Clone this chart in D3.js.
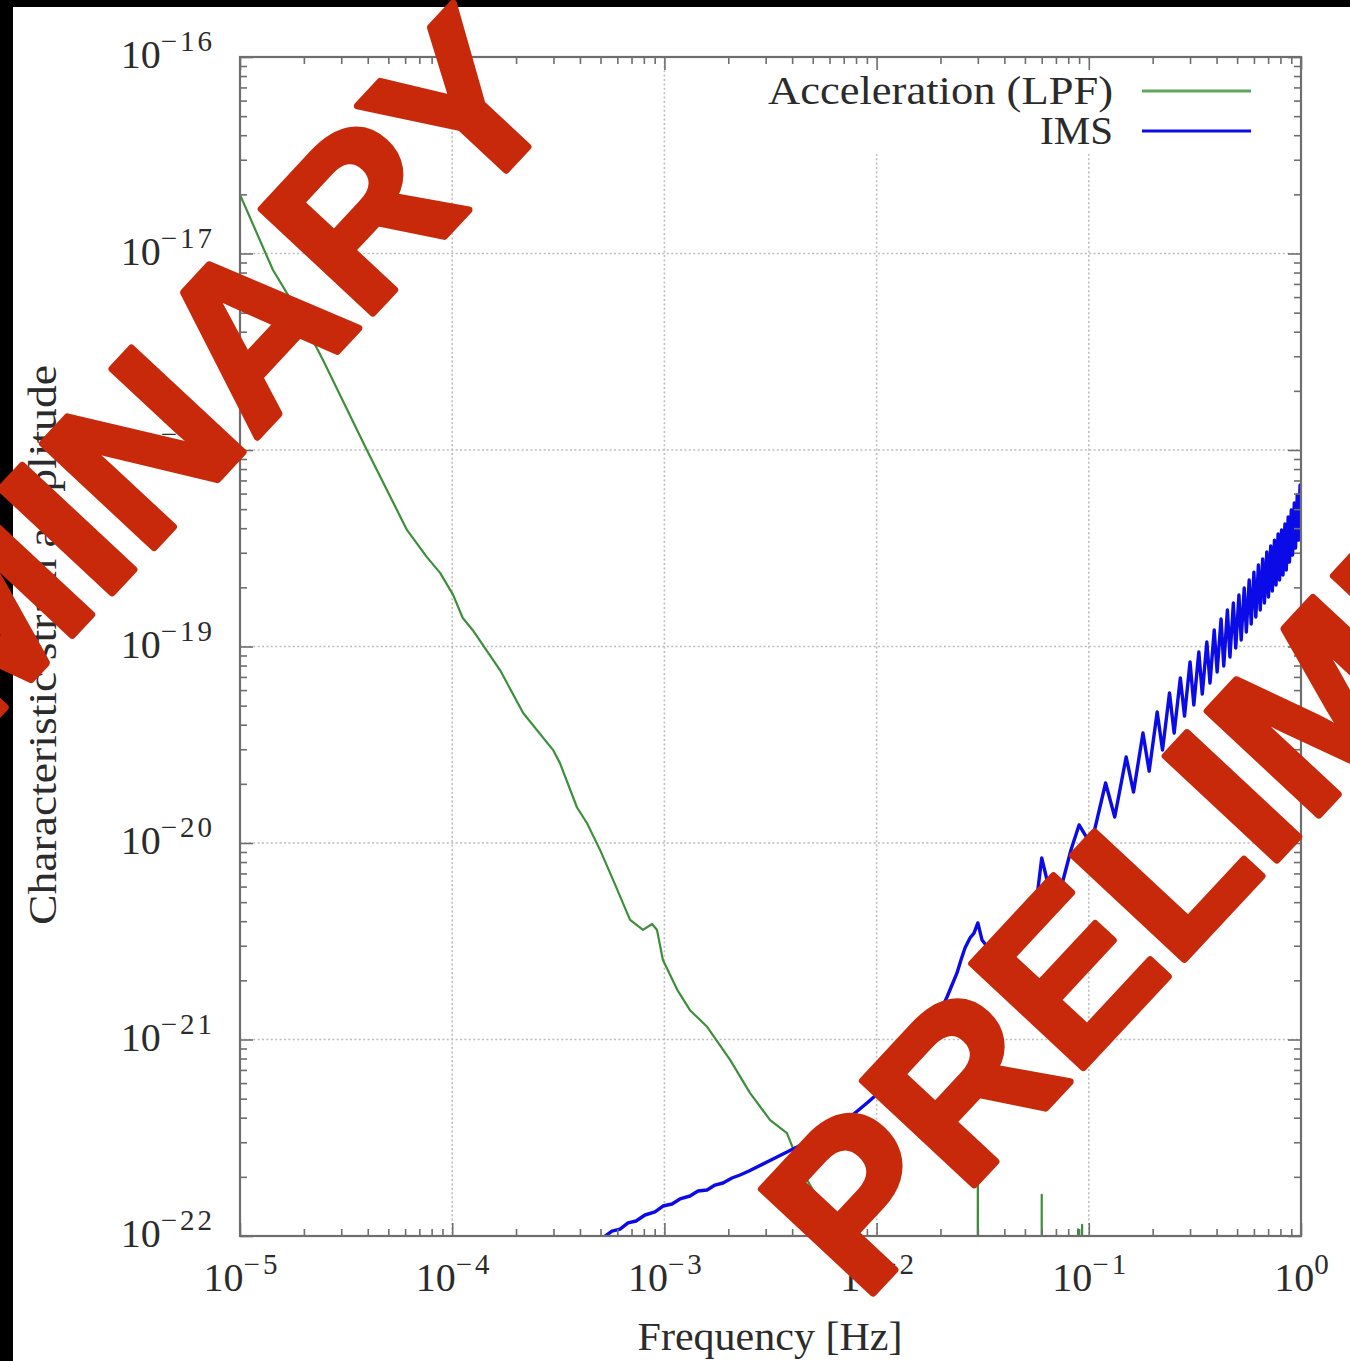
<!DOCTYPE html>
<html>
<head>
<meta charset="utf-8">
<script src="https://cdn.jsdelivr.net/npm/d3@7"></script>
<style>
  html, body { margin: 0; padding: 0; background: #fff; }
  svg { display: block; }
</style>
</head>
<body>
<svg id="chart" width="1350" height="1361"></svg>
<script>
// ---- data -------------------------------------------------------------
const seriesNames = ["Acceleration (LPF)", "IMS"];
const xTicks = [1e-5, 1e-4, 1e-3, 1e-2, 1e-1, 1];
const yTicks = [1e-22, 1e-21, 1e-20, 1e-19, 1e-18, 1e-17, 1e-16];

// Acceleration noise (LPF): frequency [Hz] and characteristic strain
const accelFreq = [1.00e-5, 1.43e-5, 1.86e-5, 2.46e-5, 3.96e-5, 6.12e-5, 7.60e-5, 8.77e-5,
  1.01e-4, 1.12e-4, 1.25e-4, 1.68e-4, 2.16e-4, 2.99e-4, 3.22e-4, 3.87e-4, 4.32e-4, 4.98e-4,
  5.73e-4, 6.89e-4, 7.93e-4, 8.75e-4, 9.23e-4, 9.84e-4, 1.15e-3, 1.32e-3, 1.59e-3, 2.04e-3,
  2.53e-3, 3.15e-3, 3.78e-3, 4.12e-3, 4.50e-3, 6.73e-3, 1.04e-2, 2.00e-2,
  2.99e-2, 3.00e-2, 3.01e-2, 5.99e-2, 6.00e-2, 6.01e-2, 8.88e-2, 8.90e-2, 8.92e-2,
  9.28e-2, 9.30e-2, 9.32e-2, 2.0e-1, 1.0];
const accelStrain = [1.99e-17, 8.24e-18, 5.15e-18, 2.87e-18, 1.00e-18, 3.92e-19, 2.85e-19, 2.37e-19,
  1.83e-19, 1.40e-19, 1.21e-19, 7.59e-20, 4.59e-20, 2.97e-20, 2.55e-20, 1.52e-20, 1.26e-20, 9.20e-21,
  6.49e-21, 4.06e-21, 3.61e-21, 3.87e-21, 3.61e-21, 2.54e-21, 1.79e-21, 1.41e-21, 1.16e-21, 7.87e-22,
  5.35e-22, 3.89e-22, 3.34e-22, 2.64e-22, 2.09e-22, 1.00e-22, 4.7e-23, 2.0e-23,
  1.2e-23, 2.52e-22, 1.2e-23, 6.0e-24, 1.62e-22, 6.0e-24, 4.5e-24, 1.08e-22, 4.5e-24,
  4.4e-24, 1.14e-22, 4.4e-24, 3.0e-24, 2.0e-24];

// IMS noise: frequency [Hz] and characteristic strain
const imsFreq = [4.97e-4, 5.66e-4, 6.18e-4, 6.74e-4, 7.35e-4, 8.10e-4, 9.03e-4, 9.85e-4,
  1.086e-3, 1.184e-3, 1.320e-3, 1.440e-3, 1.588e-3, 1.732e-3, 1.889e-3, 2.083e-3, 2.272e-3,
  2.504e-3, 2.731e-3, 3.045e-3, 3.393e-3, 3.783e-3, 4.215e-3, 4.856e-3, 5.591e-3, 6.231e-3,
  6.944e-3, 7.91e-3, 9.01e-3, 9.83e-3, 1.072e-2, 1.182e-2, 1.289e-2, 1.391e-2, 1.485e-2,
  1.602e-2, 1.728e-2, 1.824e-2, 1.926e-2, 2.033e-2, 2.147e-2, 2.266e-2, 2.393e-2, 2.498e-2,
  2.609e-2, 2.755e-2, 2.877e-2, 3.00e-2, 3.138e-2, 3.42e-2, 4.25e-2, 4.59e-2, 5.17e-2,
  5.70e-2, 6.00e-2, 6.49e-2, 7.25e-2, 8.24e-2, 9.00e-2,
  0.1025, 0.12, 0.1325, 0.15, 0.1625, 0.18, 0.1925, 0.21, 0.2225, 0.24, 0.2525, 0.27,
  0.2825, 0.30, 0.3125, 0.33, 0.3425, 0.36, 0.3725, 0.39, 0.4025, 0.42, 0.4325, 0.45,
  0.4625, 0.48, 0.4925, 0.51, 0.5225, 0.54, 0.5525, 0.57, 0.5825, 0.60, 0.6125, 0.63,
  0.6425, 0.66, 0.6725, 0.69, 0.7025, 0.72, 0.7325, 0.75, 0.7625, 0.78, 0.7925, 0.81,
  0.8225, 0.84, 0.8525, 0.87, 0.8825, 0.90, 0.9125, 0.93, 0.9425, 0.96, 0.9725, 0.99, 1.0];
const imsStrain = [9.54e-23, 1.060e-22, 1.085e-22, 1.165e-22, 1.192e-22, 1.279e-22, 1.325e-22, 1.421e-22,
  1.455e-22, 1.543e-22, 1.598e-22, 1.694e-22, 1.714e-22, 1.817e-22, 1.861e-22, 1.973e-22, 2.044e-22,
  2.142e-22, 2.245e-22, 2.380e-22, 2.523e-22, 2.675e-22, 2.836e-22, 3.079e-22, 3.344e-22, 3.546e-22,
  3.760e-22, 4.227e-22, 4.751e-22, 5.158e-22, 5.664e-22, 6.148e-22, 6.752e-22, 7.417e-22, 8.145e-22,
  9.05e-22, 1.030e-21, 1.131e-21, 1.257e-21, 1.446e-21, 1.645e-21, 1.894e-21, 2.181e-21, 2.538e-21,
  2.92e-21, 3.285e-21, 3.48e-21, 3.92e-21, 3.21e-21, 2.855e-21, 2.92e-21, 3.03e-21, 3.83e-21,
  5.31e-21, 8.39e-21, 5.90e-21, 5.44e-21, 9.21e-21, 1.235e-20,
  9.77e-21, 2.02e-20, 1.356e-20, 2.74e-20, 1.817e-20, 3.63e-20, 2.32e-20, 4.64e-20, 2.97e-20, 5.80e-20, 3.63e-20, 6.91e-20,
  4.43e-20, 8.34e-20, 5.04e-20, 9.38e-20, 5.73e-20, 1.054e-19, 6.52e-20, 1.213e-19, 7.42e-20, 1.380e-19, 7.96e-20, 1.534e-19,
  8.84e-20, 1.665e-19, 9.83e-20, 1.829e-19, 1.079e-19, 1.985e-19, 1.185e-19, 2.18e-19, 1.302e-19, 2.39e-19, 1.413e-19, 2.60e-19,
  1.534e-19, 2.79e-19, 1.665e-19, 3.03e-19, 1.786e-19, 3.25e-19, 1.916e-19, 3.48e-19, 2.056e-19, 3.74e-19, 2.18e-19, 3.92e-19,
  2.31e-19, 4.20e-19, 2.45e-19, 4.56e-19, 2.69e-19, 4.95e-19, 2.92e-19, 5.37e-19, 3.17e-19, 5.90e-19, 3.48e-19, 6.64e-19, 3.92e-19];

// ---- layout -----------------------------------------------------------
const W = 1350, H = 1361;
const plot = { left: 240, top: 57, right: 1301, bottom: 1236 };
const serif = "'Liberation Serif', 'Times New Roman', serif";
const textColor = "#2b2b2b";
const colors = { accel: "#3d8f3d", ims: "#0b0be8", legendAccel: "#5fa65f" };

const svg = d3.select("#chart");
svg.append("rect").attr("width", W).attr("height", H).attr("fill", "#fff");

const x = d3.scaleLog().domain([1e-5, 1]).range([plot.left, plot.right]);
const y = d3.scaleLog().domain([1e-22, 1e-16]).range([plot.bottom, plot.top]);

const minorOf = ticks => ticks.slice(0, -1).flatMap(d => d3.range(2, 10).map(k => k * d));
const xMinor = minorOf(xTicks);
const yMinor = minorOf(yTicks);

// dotted grid at every decade
const grid = svg.append("g").attr("stroke", "#bdbdbd").attr("stroke-width", 1.6)
  .attr("stroke-dasharray", "2,2.4").attr("fill", "none");
grid.selectAll(".gx").data(xTicks.slice(1, -1)).join("line")
  .attr("x1", d => x(d)).attr("x2", d => x(d)).attr("y1", plot.top).attr("y2", plot.bottom);
grid.selectAll(".gy").data(yTicks.slice(1, -1)).join("line")
  .attr("y1", d => y(d)).attr("y2", d => y(d)).attr("x1", plot.left).attr("x2", plot.right);

// opaque key area
svg.append("rect").attr("x", 760).attr("y", 60).attr("width", 505).attr("height", 94).attr("fill", "#fff");

// ---- curves -----------------------------------------------------------
svg.append("clipPath").attr("id", "plot-clip").append("rect")
  .attr("x", plot.left).attr("y", plot.top)
  .attr("width", plot.right - plot.left).attr("height", plot.bottom - plot.top);

const line = d3.line().x(d => x(d[0])).y(d => y(d[1]));
const curves = svg.append("g").attr("clip-path", "url(#plot-clip)").attr("fill", "none")
  .attr("stroke-linejoin", "round");
curves.append("path").datum(d3.zip(accelFreq, accelStrain))
  .attr("d", line).attr("stroke", colors.accel).attr("stroke-width", 2.2);
curves.append("path").datum(d3.zip(imsFreq, imsStrain))
  .attr("d", line).attr("stroke", colors.ims).attr("stroke-width", 3.4);

// ---- axes: inward ticks on all four sides ------------------------------
const axisColor = "#6e6e6e";
function ticks(axisFn, scale, major, minor, transform) {
  const gMinor = svg.append("g").attr("transform", transform)
    .call(axisFn(scale).tickValues(minor).tickSize(-7).tickFormat(""));
  const gMajor = svg.append("g").attr("transform", transform)
    .call(axisFn(scale).tickValues(major).tickSize(-13).tickFormat(""));
  [gMinor, gMajor].forEach(g => {
    g.select(".domain").remove();
    g.selectAll("line").attr("stroke", axisColor).attr("stroke-width", 1.6);
  });
}
ticks(d3.axisBottom, x, xTicks, xMinor, `translate(0,${plot.bottom})`);
ticks(d3.axisTop, x, xTicks, xMinor, `translate(0,${plot.top})`);
ticks(d3.axisLeft, y, yTicks, yMinor, `translate(${plot.left},0)`);
ticks(d3.axisRight, y, yTicks, yMinor, `translate(${plot.right},0)`);

svg.append("rect").attr("x", plot.left).attr("y", plot.top)
  .attr("width", plot.right - plot.left).attr("height", plot.bottom - plot.top)
  .attr("fill", "none").attr("stroke", axisColor).attr("stroke-width", 2.2);

// power-of-ten tick labels
function powerLabel(sel) {
  sel.each(function (d) {
    const e = Math.round(Math.log10(d));
    const t = d3.select(this);
    t.append("tspan").text("10");
    t.append("tspan").attr("dy", -17).attr("font-size", 29)
      .attr("letter-spacing", 3).text(e === 0 ? "0" : "\u2212" + Math.abs(e));
  });
}
svg.append("g").selectAll("text").data(xTicks).join("text")
  .attr("x", d => x(d) + 2).attr("y", plot.bottom + 55)
  .attr("text-anchor", "middle").attr("font-family", serif).attr("font-size", 40)
  .attr("fill", textColor).call(powerLabel);
svg.append("g").selectAll("text").data(yTicks).join("text")
  .attr("x", plot.left - 25).attr("y", d => y(d) + 11)
  .attr("text-anchor", "end").attr("font-family", serif).attr("font-size", 40)
  .attr("fill", textColor).call(powerLabel);

// axis titles
svg.append("text").attr("x", 770).attr("y", 1350).attr("text-anchor", "middle")
  .attr("font-family", serif).attr("font-size", 41).attr("fill", textColor)
  .attr("textLength", 265).attr("lengthAdjust", "spacingAndGlyphs")
  .text("Frequency [Hz]");
svg.append("text").attr("transform", "translate(56,645) rotate(-90)").attr("text-anchor", "middle")
  .attr("font-family", serif).attr("font-size", 41).attr("fill", textColor)
  .attr("textLength", 560).attr("lengthAdjust", "spacingAndGlyphs")
  .text("Characteristic strain amplitude");

// ---- key ---------------------------------------------------------------
const key = svg.append("g");
const keyRows = [
  { name: seriesNames[0], color: colors.legendAccel, y: 91, len: 345 },
  { name: seriesNames[1], color: colors.ims, y: 131, len: 73 }
];
keyRows.forEach(r => {
  key.append("text").attr("x", 1113).attr("y", r.y + 13).attr("text-anchor", "end")
    .attr("font-family", serif).attr("font-size", 41).attr("fill", textColor)
    .attr("textLength", r.len).attr("lengthAdjust", "spacingAndGlyphs").text(r.name);
  key.append("line").attr("x1", 1142).attr("x2", 1251).attr("y1", r.y).attr("y2", r.y)
    .attr("stroke", r.color).attr("stroke-width", 3);
});

// ---- frame of the page -------------------------------------------------
svg.append("rect").attr("x", 0).attr("y", 0).attr("width", 13).attr("height", H).attr("fill", "#000");
svg.append("rect").attr("x", 0).attr("y", 0).attr("width", W).attr("height", 7).attr("fill", "#000");

// ---- stamp -------------------------------------------------------------
const stampColor = "#c8290b";
[[-470, 1217], [863, 1304]].forEach(([sx, sy]) => {
  svg.append("text").attr("transform", `translate(${sx},${sy}) rotate(-47)`)
    .attr("font-family", "'Liberation Sans', Arial, sans-serif").attr("font-weight", "bold")
    .attr("font-size", 222)
    .attr("fill", stampColor).attr("stroke", stampColor)
    .attr("stroke-width", 7).attr("stroke-linejoin", "round")
    .text("PRELIMINARY");
});
</script>
</body>
</html>
